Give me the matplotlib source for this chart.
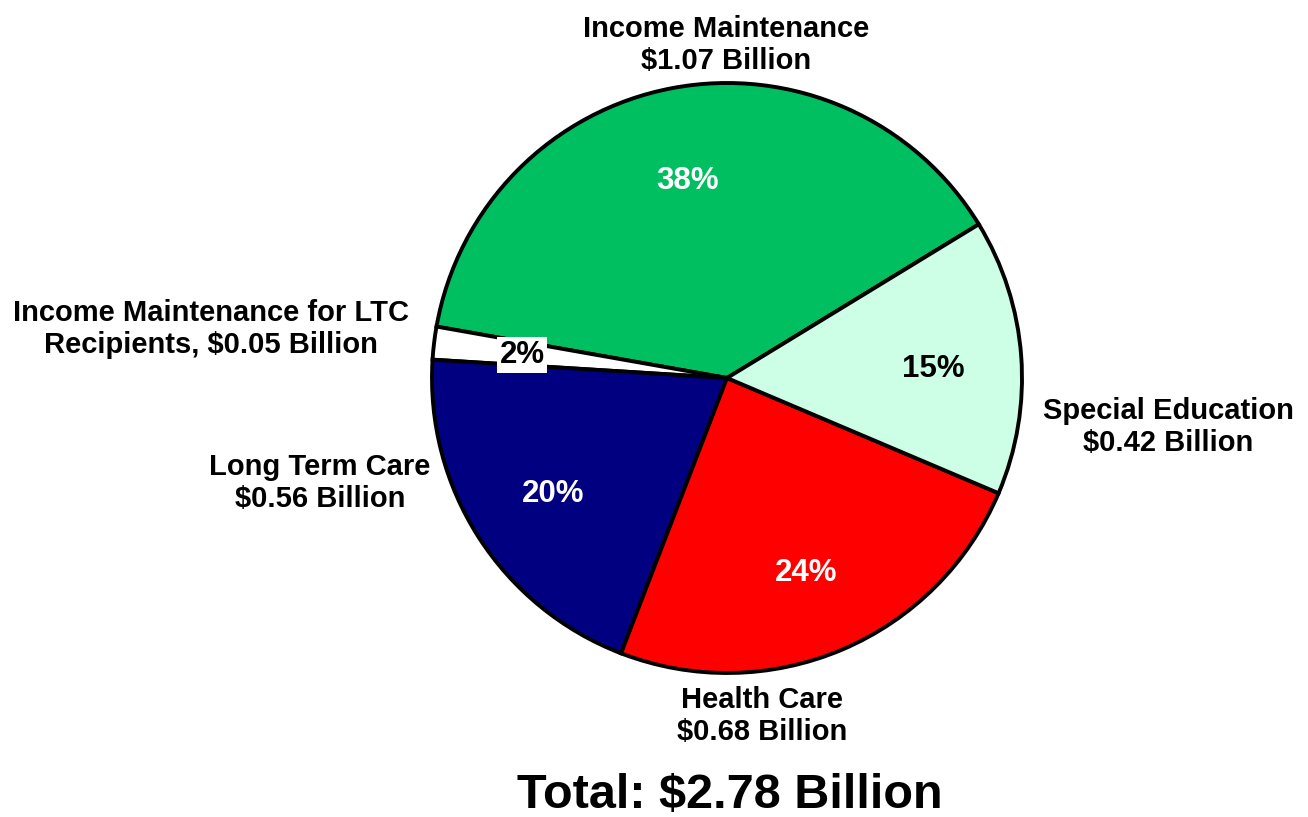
import matplotlib.pyplot as plt

plt.rcParams['font.family'] = ['Liberation Sans', 'DejaVu Sans']

categories = ['Income Maintenance', 'Income Maintenance for LTC Recipients',
              'Long Term Care', 'Health Care', 'Special Education']
values = [1.07, 0.05, 0.56, 0.68, 0.42]
colors = ['#00BF60', '#FFFFFF', '#000080', '#FF0000', '#CCFFE6']
pct_colors = ['white', 'black', 'white', 'white', 'black']
total = 2.78

outer_labels = ['Income Maintenance\n$1.07 Billion',
                'Income Maintenance for LTC\nRecipients, $0.05 Billion',
                'Long Term Care\n$0.56 Billion',
                'Health Care\n$0.68 Billion',
                'Special Education\n$0.42 Billion']
# label positions in pixel space (x, y from top)
outer_pos = [(726, 45), (211, 329), (320, 483), (762, 716), (1168, 427)]
pct_pos = [(688, 181), (522, 355), (553, 494), (806, 573), (933, 369)]

W, H = 1308, 817
fig = plt.figure(figsize=(W / 100, H / 100), dpi=100)
ax = fig.add_axes([0, 0, 1, 1])

wedges, _ = ax.pie(values, colors=colors, startangle=31.4, counterclock=True,
                   center=(727, H - 378), radius=295, frame=True,
                   wedgeprops=dict(edgecolor='black', linewidth=2.8))
ax.set_xlim(0, W)
ax.set_ylim(0, H)
ax.set_aspect('equal')
ax.axis('off')

for i, v in enumerate(values):
    pct = f'{round(v / total * 100):.0f}%'
    x, y = pct_pos[i]
    bbox = None
    if colors[i] == '#FFFFFF':
        bbox = dict(facecolor='white', edgecolor='none', pad=2)
    ax.text(x, H - y, pct, color=pct_colors[i], fontsize=22.5, fontweight='bold',
            ha='center', va='center', bbox=bbox)

for lab, (x, y) in zip(outer_labels, outer_pos):
    ax.text(x, H - y, lab, fontsize=21, fontweight='bold', ha='center',
            va='center', linespacing=1.2)

ax.text(730, H - 795, f'Total: ${total} Billion', fontsize=35, fontweight='bold',
        ha='center', va='center')

fig.savefig('out.png', dpi=100)
